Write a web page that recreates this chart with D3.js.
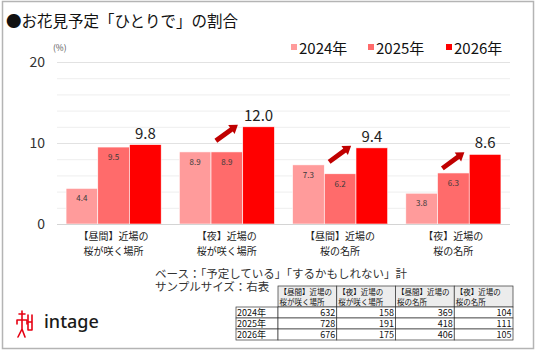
<!DOCTYPE html>
<html>
<head>
<meta charset="utf-8">
<script src="https://cdn.jsdelivr.net/npm/d3@7"></script>
<style>
    body { margin: 0; background: #fff; }
    svg { display: block; font-family: "Noto Sans CJK JP", "Noto Sans", sans-serif; }
</style>
</head>
<body>
<div id="chart"></div>
<script>
// データ
let categories = [
    ["【昼間】近場の", "桜が咲く場所"],
    ["【夜】近場の", "桜が咲く場所"],
    ["【昼間】近場の", "桜の名所"],
    ["【夜】近場の", "桜の名所"]
]
let years = ["2024年", "2025年", "2026年"]
let values2024 = [4.4, 8.9, 7.3, 3.8]
let values2025 = [9.5, 8.9, 6.2, 6.3]
let values2026 = [9.8, 12.0, 9.4, 8.6]
let arrowFlags = [false, true, true, true]
let yTicks = [0, 10, 20]
let sampleHeader = categories
let sampleCounts = [
    [632, 158, 369, 104],
    [728, 191, 418, 111],
    [676, 175, 406, 105]
]

let width = 536, height = 351
let plot = { top: 62, right: 510, bottom: 224, left: 57 }
let colors = ["#ff9b9b", "#ff6b6b", "#ff0000"]
let seriesValues = [values2024, values2025, values2026]

let svg = d3.select("#chart").append("svg")
    .attr("width", width)
    .attr("height", height)

// 外枠
svg.append("rect")
    .attr("x", 2.5).attr("y", 1.5)
    .attr("width", 531).attr("height", 347)
    .attr("fill", "none")
    .attr("stroke", "#b4b4b4")
    .attr("stroke-width", 1.5)

svg.append("text")
    .attr("x", 6).attr("y", 27)
    .attr("font-size", 15.5)
    .attr("fill", "#111")
    .text("●お花見予定「ひとりで」の割合")

let x0 = d3.scaleBand()
    .domain(d3.range(categories.length))
    .range([plot.left, plot.right])
    .paddingInner(0.16)
    .paddingOuter(0.08)

let x1 = d3.scaleBand()
    .domain(d3.range(years.length))
    .range([0, x0.bandwidth()])

let y = d3.scaleLinear()
    .domain([0, 20])
    .range([plot.bottom, plot.top])

// グリッド
svg.append("g").selectAll("line")
    .data(d3.range(2, 21, 2))
    .enter()
    .append("line")
    .attr("x1", plot.left).attr("x2", plot.right)
    .attr("y1", d => y(d) + 0.5).attr("y2", d => y(d) + 0.5)
    .attr("stroke", d => d % 10 == 0 ? "#e2e2e2" : "#eeeeee")
    .attr("stroke-width", 1)

svg.append("text")
    .attr("x", 53).attr("y", 51)
    .attr("font-size", 8.5)
    .attr("fill", "#555")
    .text("(%)")

svg.append("g").selectAll("text")
    .data(yTicks)
    .enter()
    .append("text")
    .attr("x", 45)
    .attr("y", d => y(d) + 5)
    .attr("text-anchor", "end")
    .attr("font-size", 14)
    .attr("fill", "#333")
    .text(d => d)

let groups = svg.append("g").selectAll("g")
    .data(categories)
    .enter()
    .append("g")
    .attr("transform", (d, i) => "translate(" + x0(i) + ",0)")

groups.selectAll("rect")
    .data((d, i) => seriesValues.map((s, j) => ({ s: j, v: s[i] })))
    .enter()
    .append("rect")
    .attr("x", d => x1(d.s))
    .attr("y", d => y(d.v))
    .attr("width", x1.bandwidth())
    .attr("height", d => y(0) - y(d.v))
    .attr("fill", d => colors[d.s])
    .attr("stroke", "#fff")
    .attr("stroke-width", 0.6)

// 棒の中の小さいラベル
groups.selectAll("text.small")
    .data((d, i) => seriesValues.slice(0, 2).map((s, j) => ({ s: j, v: s[i] })))
    .enter()
    .append("text")
    .attr("class", "small")
    .attr("x", d => x1(d.s) + x1.bandwidth() / 2)
    .attr("y", d => y(d.v) + 13)
    .attr("text-anchor", "middle")
    .attr("font-size", 8)
    .attr("fill", "#3a3a3a")
    .text(d => d3.format(".1f")(d.v))

groups.append("text")
    .attr("x", x1(2) + x1.bandwidth() / 2)
    .attr("y", (d, i) => y(values2026[i]) - 6)
    .attr("text-anchor", "middle")
    .attr("font-size", 15)
    .attr("fill", "#222")
    .text((d, i) => d3.format(".1f")(values2026[i]))

// 矢印
function arrowPath(xs, ys, xe, ye) {
    let ang = Math.atan2(ye - ys, xe - xs)
    let hl = 8, hw = 5.5, sw = 2.4
    let c = Math.cos(ang), s = Math.sin(ang)
    let bx = xe - hl * c, by = ye - hl * s
    let px = -s, py = c
    let pts = [
        [xs + px * sw, ys + py * sw],
        [bx + px * sw, by + py * sw],
        [bx + px * hw, by + py * hw],
        [xe, ye],
        [bx - px * hw, by - py * hw],
        [bx - px * sw, by - py * sw],
        [xs - px * sw, ys - py * sw]
    ]
    return "M" + pts.map(p => p.join(",")).join("L") + "Z"
}

groups.filter((d, i) => arrowFlags[i])
    .append("path")
    .attr("d", d => {
        let idx = categories.indexOf(d)
        let cx = x0.bandwidth() / 2
        let ye = y(values2026[idx]) - 2
        return arrowPath(cx - 11, ye + 16, cx + 11, ye)
    })
    .attr("fill", "#c00000")

// x軸ラベル
svg.append("line")
    .attr("x1", plot.left).attr("x2", plot.right)
    .attr("y1", y(0) + 0.5).attr("y2", y(0) + 0.5)
    .attr("stroke", "#d4d4d4")

groups.each(function (d) {
    let t = d3.select(this).append("text")
        .attr("text-anchor", "middle")
        .attr("font-size", 10)
        .attr("fill", "#222")
    d.forEach((line, k) => {
        t.append("tspan")
            .attr("x", x0.bandwidth() / 2)
            .attr("y", 240 + k * 15)
            .text(line)
    })
})

// 凡例
let legendX = [291, 368, 446]
let legend = svg.append("g").selectAll("g")
    .data(years)
    .enter()
    .append("g")
    .attr("transform", (d, i) => "translate(" + legendX[i] + ",44)")
legend.append("rect")
    .attr("width", 6).attr("height", 6)
    .attr("fill", (d, i) => colors[i])
legend.append("text")
    .attr("x", 8).attr("y", 10)
    .attr("font-size", 15)
    .attr("fill", "#111")
    .text(d => d)

// 注記
svg.append("text")
    .attr("x", 155).attr("y", 278)
    .attr("font-size", 11.5)
    .attr("fill", "#333")
    .text("ベース：「予定している」「するかもしれない」計")
svg.append("text")
    .attr("x", 155).attr("y", 291)
    .attr("font-size", 11.5)
    .attr("fill", "#333")
    .text("サンプルサイズ：右表")

// サンプル表
let tx = d3.scaleBand().domain(d3.range(4)).range([278, 513])
let ty = d3.scaleBand().domain(d3.range(sampleCounts.length)).range([307, 340])
let table = svg.append("g").attr("font-size", 9).attr("fill", "#111")

table.selectAll("rect.head")
    .data(sampleHeader)
    .enter()
    .append("rect")
    .attr("class", "head")
    .attr("x", (d, i) => tx(i)).attr("y", 286)
    .attr("width", tx.bandwidth()).attr("height", 21)
    .attr("fill", "#ececec")
    .attr("stroke", "#333").attr("stroke-width", 0.7)

sampleHeader.forEach((d, i) => {
    d.forEach((line, k) => {
        table.append("text")
            .attr("x", tx(i) + 1.5)
            .attr("y", 295 + k * 9.5)
            .attr("font-size", 7.5)
            .text(line)
    })
})

let rows = table.selectAll("g.row")
    .data(sampleCounts)
    .enter()
    .append("g")
    .attr("class", "row")

rows.append("rect")
    .attr("x", 236).attr("y", (d, i) => ty(i))
    .attr("width", 42).attr("height", ty.bandwidth())
    .attr("fill", "#fff")
    .attr("stroke", "#333").attr("stroke-width", 0.7)
rows.append("text")
    .attr("x", 237).attr("y", (d, i) => ty(i) + 9)
    .text((d, i) => years[i])

rows.each(function (d, r) {
    let g = d3.select(this)
    d.forEach((v, c) => {
        g.append("rect")
            .attr("x", tx(c)).attr("y", ty(r))
            .attr("width", tx.bandwidth()).attr("height", ty.bandwidth())
            .attr("fill", "#fff")
            .attr("stroke", "#333").attr("stroke-width", 0.7)
        g.append("text")
            .attr("x", tx(c) + tx.bandwidth() - 1.5)
            .attr("y", ty(r) + 9)
            .attr("text-anchor", "end")
            .text(v)
    })
})

// ロゴ
let logo = svg.append("g")
    .attr("stroke", "#e60012")
    .attr("stroke-width", 1.6)
    .attr("fill", "none")
    .attr("stroke-linecap", "round")
logo.append("path").attr("d", "M19,314 L25,314 M22,311 L22,329 M17,320 L27,320 M17,320 L17,324 M27,320 L27,324 M22,329 L18,337 M22,329 L25,337")
logo.append("path").attr("d", "M28,315 L28,330 M32,315 L32,330 M28,322 L32,322 M28,330 L32,330")
svg.append("text")
    .attr("x", 44).attr("y", 328)
    .attr("font-family", "Noto Sans, sans-serif")
    .attr("font-size", 18)
    .attr("font-weight", 500)
    .attr("fill", "#1a1a1a")
    .text("intage")
</script>
</body>
</html>
